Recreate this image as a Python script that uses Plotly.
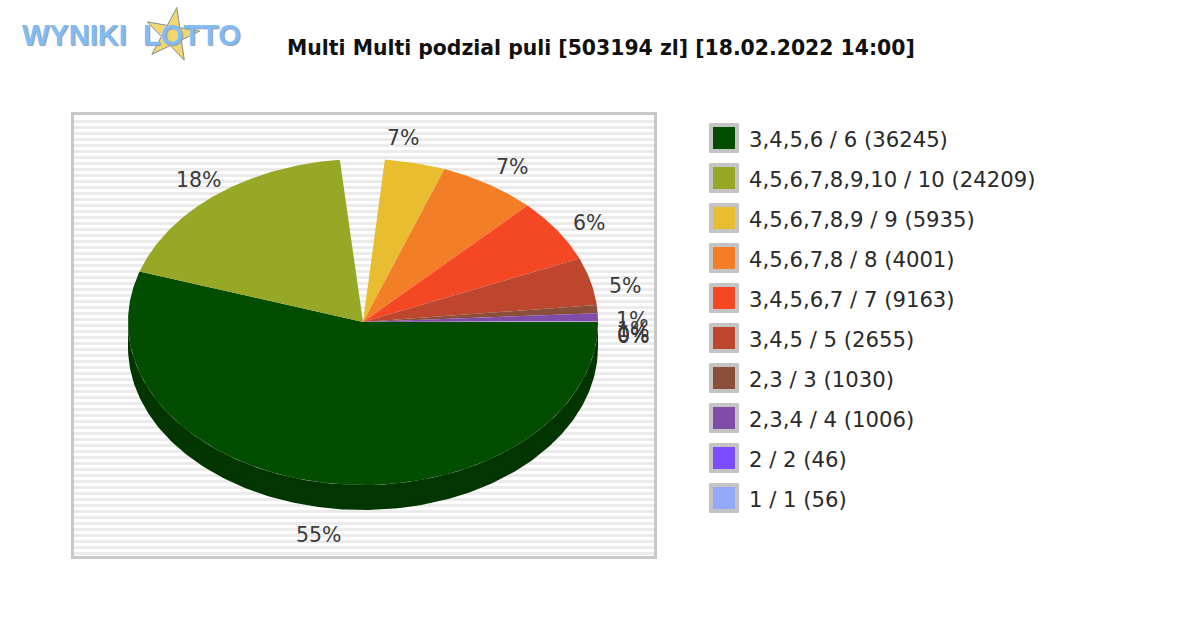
import numpy as np
import plotly.graph_objects as go

title = "Multi Multi podzial puli [503194 zl] [18.02.2022 14:00]"

# tiers in legend order
tiers = ["3,4,5,6 / 6", "4,5,6,7,8,9,10 / 10", "4,5,6,7,8,9 / 9", "4,5,6,7,8 / 8", "3,4,5,6,7 / 7",
         "3,4,5 / 5", "2,3 / 3", "2,3,4 / 4", "2 / 2", "1 / 1"]
winners = [36245, 24209, 5935, 4001, 9163, 2655, 1030, 1006, 46, 56]
shares = [55.0, 18.4, 7.2, 6.7, 6.3, 4.7, 0.8, 0.8, 0.03, 0.03]
colors = ["#034d00", "#96a825", "#e8bd2f", "#f27f28", "#f44824",
          "#bd472e", "#8a4e3a", "#7f4ca8", "#7a4cfc", "#94a9f9"]
# part of the yellow slice is left blank in the original, in percent of the pie
blank_share = 3.05

# pie geometry, in page pixels
cx, cy = 363, 322
rx, ry = 235, 163
depth = 25
side_color = "#023500"


def wedge(a0, a1):
    t = np.radians(np.linspace(a0, a1, max(int(abs(a1 - a0) * 2), 2)))
    return ([cx] + list(cx + rx * np.cos(t)) + [cx], [cy] + list(cy - ry * np.sin(t)) + [cy])


fig = go.Figure()

# striped frame is the first subplot, its grid makes the stripes
fig.add_trace(go.Scatter(x=[None], y=[None], xaxis="x", yaxis="y", hoverinfo="skip", showlegend=False))

# side wall of the pie, only the front half can be seen
t = np.radians(np.linspace(180, 360, 200))
fig.add_trace(go.Scatter(
    x=list(cx + rx * np.cos(t)) + list(cx + rx * np.cos(t[::-1])),
    y=list(cy - ry * np.sin(t)) + list(cy + depth - ry * np.sin(t[::-1])),
    mode="lines", fill="toself", fillcolor=side_color, line=dict(width=0),
    xaxis="x2", yaxis="y2", hoverinfo="skip", showlegend=False,
))

# slices clockwise from east
total = sum(shares)
angle = 0.0
for i, s in enumerate(shares):
    span = s / total * 360
    start = angle
    if i == 2:
        start = angle - blank_share / total * 360
    x, y = wedge(start, angle - span)
    fig.add_trace(go.Scatter(x=x, y=y, mode="lines", fill="toself", fillcolor=colors[i],
                             line=dict(width=0), xaxis="x2", yaxis="y2", hoverinfo="skip", showlegend=False))
    mid = np.radians(angle - span / 2)
    sin_mid = np.sin(mid)
    if sin_mid > -0.1:
        lx = cx + 270 * np.cos(mid) + 6 * sin_mid
        ly = cy - 200 * sin_mid + 14
    else:
        lx = cx + 270 * np.cos(mid) + 2 * sin_mid
        ly = cy - 188 * sin_mid + 27
    fig.add_annotation(x=lx, y=ly, xref="x2", yref="y2", text=f"{round(s)}%", showarrow=False,
                       font=dict(family="DejaVu Sans", size=20.5, color="#3a3a3a"))
    angle -= span

# legend
fig.add_trace(go.Scatter(
    x=[724] * len(tiers), y=[138 + 40 * i for i in range(len(tiers))],
    mode="markers", xaxis="x2", yaxis="y2", hoverinfo="skip", showlegend=False,
    marker=dict(symbol="square", size=26, color=colors, line=dict(color="#c4c4c4", width=4)),
))
fig.add_trace(go.Scatter(
    x=[749] * len(tiers), y=[142 + 40 * i for i in range(len(tiers))],
    mode="text", xaxis="x2", yaxis="y2", hoverinfo="skip", showlegend=False,
    text=[f"{t_} ({w})" for t_, w in zip(tiers, winners)], textposition="middle right",
    textfont=dict(family="DejaVu Sans", size=21.2, color="#2a2a2a"),
))

# logo
for word, lx in [("WYNIKI", 74), ("LOTTO", 192)]:
    fig.add_annotation(x=lx, y=35, xref="x2", yref="y2", text=f"<b>{word}</b>", showarrow=False,
                       font=dict(family="Liberation Sans", size=29, color="#82bcf5",
                                 shadow="1px 1px 1px #8a9bb0"))
fig.add_trace(go.Scatter(
    x=[172], y=[35], mode="markers", xaxis="x2", yaxis="y2", hoverinfo="skip", showlegend=False,
    marker=dict(symbol="star", size=40, angle=10, color="#f2d66e", line=dict(color="#7c8ea0", width=1)),
))

fig.add_annotation(x=601, y=48, xref="x2", yref="y2", text=f"<b>{title}</b>", showarrow=False,
                   font=dict(family="DejaVu Sans", size=20.4, color="#111111"))

fig.update_layout(
    width=1200, height=630, margin=dict(l=0, r=0, t=0, b=0),
    paper_bgcolor="white", plot_bgcolor="rgba(0,0,0,0)", hovermode=False, showlegend=False,
    xaxis=dict(domain=[74 / 1200, 654 / 1200], range=[74, 654], showticklabels=False, ticks="",
               showgrid=False, zeroline=False, showline=True, mirror=True, linecolor="#c8c8c8", linewidth=3),
    yaxis=dict(domain=[1 - 556 / 630, 1 - 115 / 630], range=[556, 115], showticklabels=False, ticks="",
               tick0=115, dtick=6, showgrid=True, gridcolor="#ebebeb", gridwidth=3, zeroline=False,
               showline=True, mirror=True, linecolor="#c8c8c8", linewidth=3),
    xaxis2=dict(domain=[0, 1], range=[0, 1200], visible=False, anchor="y2"),
    yaxis2=dict(domain=[0, 1], range=[630, 0], visible=False, anchor="x2"),
)

# the page's default body margin would push the chart 8px off
fig.write_html("out.html", config={"displayModeBar": False}, post_script="document.body.style.margin = '0';")
